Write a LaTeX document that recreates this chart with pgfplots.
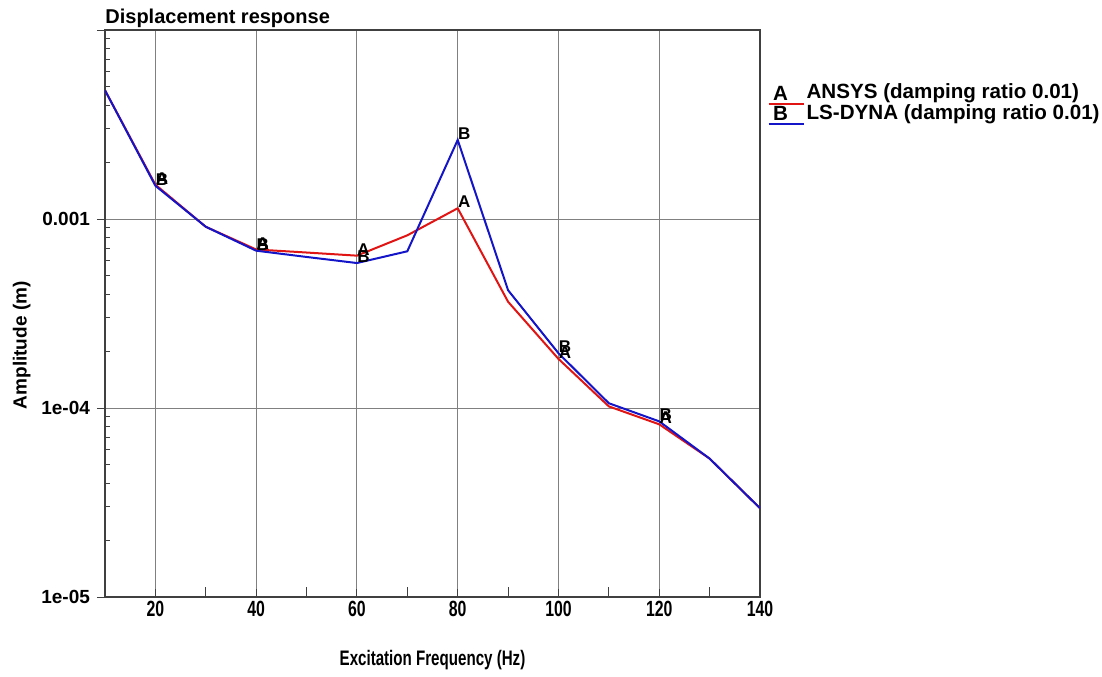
\documentclass[border=0pt]{standalone}
\usepackage{pgfplots}
\pgfplotsset{compat=1.18}
\usepackage{fontspec}
\setmainfont{Liberation Sans}
\newfontfamily\narrowfont{Liberation Sans}[FakeStretch=0.72]
\definecolor{ansys}{RGB}{225,20,20}
\definecolor{dyna}{RGB}{20,20,200}
\definecolor{gridgray}{RGB}{128,128,128}
\begin{document}
\begin{tikzpicture}
\begin{axis}[
  at={(0,0)}, anchor=south west,
  scale only axis, width=327.5pt, height=283.5pt,
  xmin=10, xmax=140,
  ymode=log, ymin=1e-5, ymax=1e-2,
  xtick={20,40,60,80,100,120,140},
  minor xtick={30,50,70,90,110,130},
  xtick align=inside,
  ytick={1e-5,1e-4,1e-3,1e-2},
  yticklabels={1e-05,1e-04,0.001,{}},
  ytick align=outside,
  yminorticks=false,
  tick pos=left,
  major tick length=4pt,
  minor tick length=5pt,
  grid=major,
  major grid style={gridgray, line width=0.5pt},
  axis line style={black!75, line width=0.6pt},
  every tick/.style={black!75, line width=0.5pt},
  extra y ticks={2e-5,3e-5,4e-5,5e-5,6e-5,7e-5,8e-5,9e-5,2e-4,3e-4,4e-4,5e-4,6e-4,7e-4,8e-4,9e-4,2e-3,3e-3,4e-3,5e-3,6e-3,7e-3,8e-3,9e-3},
  extra y tick labels={},
  extra y tick style={ytick align=inside, major tick length=2.5pt, grid=none},
  xticklabel style={font=\narrowfont\bfseries\fontsize{11}{12}\selectfont, inner sep=0pt, yshift=-2pt},
  yticklabel style={font=\bfseries\fontsize{9.5}{10}\selectfont},
  /pgf/number format/assume math mode=true,
  xlabel={Excitation Frequency (Hz)},
  ylabel={Amplitude (m)},
  xlabel style={at={(axis description cs:0.5,-0.111)}, anchor=center, font=\narrowfont\bfseries\fontsize{10.5}{12}\selectfont},
  ylabel style={at={(axis description cs:-0.127,0.444)}, anchor=center, font=\bfseries\fontsize{9.5}{11}\selectfont},
  title={Displacement response},
  title style={at={(0,1)}, anchor=base west, inner sep=0pt, yshift=-2.5pt, font=\bfseries\fontsize{10}{12}\selectfont},
  legend style={at={(1.011,0.909)}, anchor=north west, draw=none, fill=none, inner sep=0pt,
    font=\bfseries\fontsize{10.3}{12}\selectfont, row sep=-1.5pt,
    nodes={inner sep=1pt}},
  legend cell align=left,
]
\addplot[color=ansys, line width=1pt,
  legend image code/.code={\draw[ansys, line width=1pt] (0pt,-5.6pt) -- (17.5pt,-5.6pt);
    \node[anchor=base, inner sep=0pt, text=black, font=\bfseries\fontsize{10.3}{12}\selectfont] at (6pt,-3.6pt) {A};}]
coordinates {
(10,4.8e-3) (20,1.52e-3) (30,9.1e-4) (40,6.9e-4) (50,6.65e-4) (60,6.4e-4) (70,8.2e-4)
(80,1.14e-3) (90,3.65e-4) (100,1.82e-4) (110,1.02e-4) (120,8.2e-5) (130,5.4e-5) (140,2.95e-5)
};
\addlegendentry{ANSYS (damping ratio 0.01)}
\addplot[color=dyna, line width=1pt,
  legend image code/.code={\draw[dyna, line width=1pt] (0pt,-5.6pt) -- (17.5pt,-5.6pt);
    \node[anchor=base, inner sep=0pt, text=black, font=\bfseries\fontsize{10.3}{12}\selectfont] at (6pt,-3.6pt) {B};}]
coordinates {
(10,4.8e-3) (20,1.5e-3) (30,9.1e-4) (40,6.8e-4) (50,6.3e-4) (60,5.85e-4) (70,6.75e-4)
(80,2.62e-3) (90,4.2e-4) (100,1.95e-4) (110,1.06e-4) (120,8.5e-5) (130,5.4e-5) (140,2.95e-5)
};
\addlegendentry{LS-DYNA (damping ratio 0.01)}
\addplot[draw=none, mark=none, forget plot, nodes near coords={A},
  every node near coord/.style={anchor=south west, inner sep=0pt, text=black, font=\bfseries\fontsize{8.5}{9}\selectfont}]
coordinates {(20,1.52e-3) (40,6.9e-4) (60,6.4e-4) (80,1.14e-3) (100,1.82e-4) (120,8.2e-5)};
\addplot[draw=none, mark=none, forget plot, nodes near coords={B},
  every node near coord/.style={anchor=south west, inner sep=0pt, text=black, font=\bfseries\fontsize{8.5}{9}\selectfont}]
coordinates {(20,1.5e-3) (40,6.8e-4) (60,5.85e-4) (80,2.62e-3) (100,1.95e-4) (120,8.5e-5)};
\end{axis}
\pgfresetboundingbox
\path[use as bounding box] (-52.5pt,-39.5pt) rectangle (498.5pt,298.5pt);
\end{tikzpicture}
\end{document}
